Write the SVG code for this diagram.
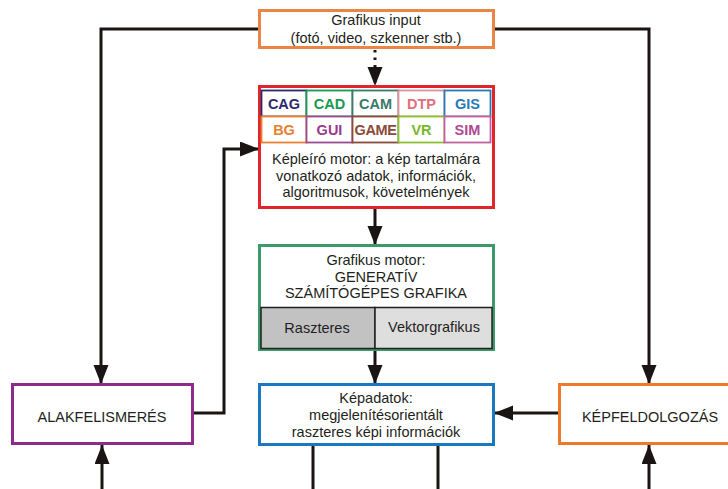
<svg xmlns="http://www.w3.org/2000/svg" width="728" height="489" viewBox="0 0 728 489">
<defs>
<marker id="ah" markerUnits="userSpaceOnUse" markerWidth="20" markerHeight="16" refX="19" refY="7.5" orient="auto">
<path d="M0,0 L19,7.5 L0,15 Z" fill="#1a1414"/>
</marker>
<style>
text{font-family:"Liberation Sans",Arial,sans-serif;font-size:14.5px;fill:#231f20;text-anchor:middle}
.b{font-weight:bold;font-size:14.5px}
.box{fill:#fff;stroke-width:3}
.cell{fill:#fff;stroke-width:1.8}
.ln{fill:none;stroke:#1a1414;stroke-width:3}
</style>
</defs>
<rect width="728" height="489" fill="#fff"/>
<g id="connectors">
<polyline class="ln" points="259,29 101,29 101,384" marker-end="url(#ah)"/>
<polyline class="ln" points="494,29 649,29 649,384" marker-end="url(#ah)"/>
<line class="ln" x1="375" y1="50" x2="375" y2="86" stroke-dasharray="2.5 5" marker-end="url(#ah)"/>
<line class="ln" x1="375" y1="208" x2="375" y2="245" marker-end="url(#ah)"/>
<line class="ln" x1="375" y1="350" x2="375" y2="384" marker-end="url(#ah)"/>
<polyline class="ln" points="193,413 224,413 224,149 259,149" marker-end="url(#ah)"/>
<line class="ln" x1="559" y1="413" x2="494" y2="413" marker-end="url(#ah)"/>
<line class="ln" x1="102" y1="489" x2="102" y2="445" marker-end="url(#ah)"/>
<line class="ln" x1="649" y1="489" x2="649" y2="445" marker-end="url(#ah)"/>
<line class="ln" x1="313" y1="445" x2="313" y2="489"/>
<line class="ln" x1="438" y1="445" x2="438" y2="489"/>
</g>
<g id="input">
<rect class="box" x="259.5" y="10.5" width="234" height="37" stroke="#ec8444"/>
<text x="376" y="25">Grafikus input</text>
<text x="376" y="43">(fotó, video, szkenner stb.)</text>
</g>
<g id="kepleiro">
<rect class="box" x="259.5" y="86.5" width="234" height="121" stroke="#e0262a"/>
<rect class="cell" x="261.5" y="90.5" width="45" height="26" stroke="#2e2a6e"/>
<text class="b" x="284" y="109" style="fill:#2e2a6e">CAG</text>
<rect class="cell" x="306.5" y="90.5" width="46" height="26" stroke="#1a9a50"/>
<text class="b" x="329.5" y="109" style="fill:#1a9a50">CAD</text>
<rect class="cell" x="352.5" y="90.5" width="46" height="26" stroke="#3a7a6a"/>
<text class="b" x="375.5" y="109" style="fill:#3a7a6a">CAM</text>
<rect class="cell" x="398.5" y="90.5" width="46" height="26" stroke="#e0909a"/>
<text class="b" x="421.5" y="109" style="fill:#e0707a">DTP</text>
<rect class="cell" x="444.5" y="90.5" width="46" height="26" stroke="#2a78b8"/>
<text class="b" x="467.5" y="109" style="fill:#2a78b8">GIS</text>
<rect class="cell" x="261.5" y="116.5" width="45" height="26" stroke="#e88030"/>
<text class="b" x="284" y="135" style="fill:#e88030">BG</text>
<rect class="cell" x="306.5" y="116.5" width="46" height="26" stroke="#9a4a8e"/>
<text class="b" x="329.5" y="135" style="fill:#9a3a8a">GUI</text>
<rect class="cell" x="352.5" y="116.5" width="46" height="26" stroke="#8a4a3a"/>
<text class="b" x="375.5" y="135" style="fill:#8a4a3a;letter-spacing:-0.4px">GAME</text>
<rect class="cell" x="398.5" y="116.5" width="46" height="26" stroke="#8ac030"/>
<text class="b" x="421.5" y="135" style="fill:#7ab828">VR</text>
<rect class="cell" x="444.5" y="116.5" width="46" height="26" stroke="#c060a0"/>
<text class="b" x="467.5" y="135" style="fill:#b04a90">SIM</text>
<text x="376" y="164">Képleíró motor: a kép tartalmára</text>
<text x="376" y="181">vonatkozó adatok, információk,</text>
<text x="376" y="197">algoritmusok, követelmények</text>
</g>
<g id="grafikus">
<rect class="box" x="259.5" y="245.5" width="234" height="104" stroke="#3a9a6a"/>
<rect x="261" y="307.5" width="114" height="41" fill="#c2c2c2" stroke="#231f20" stroke-width="1.5"/>
<rect x="375" y="307.5" width="117" height="41" fill="#dedede" stroke="#231f20" stroke-width="1.5"/>
<text x="376" y="265">Grafikus motor:</text>
<text x="376" y="282">GENERATÍV</text>
<text x="376" y="298">SZÁMÍTÓGÉPES GRAFIKA</text>
<text x="317" y="333">Raszteres</text>
<text x="434" y="332">Vektorgrafikus</text>
</g>
<g id="kepadatok">
<rect class="box" x="259.5" y="384.5" width="234" height="60" stroke="#1a78c0"/>
<text x="376" y="403">Képadatok:</text>
<text x="376" y="420">megjelenítésorientált</text>
<text x="376" y="437">raszteres képi információk</text>
</g>
<g id="alakfelismeres">
<rect class="box" x="12.5" y="384.5" width="180" height="59" stroke="#8e2a8a"/>
<text x="102" y="422">ALAKFELISMERÉS</text>
</g>
<g id="kepfeldolgozas">
<rect class="box" x="559.5" y="384.5" width="182" height="59" stroke="#ec7a2a"/>
<text x="650" y="422">KÉPFELDOLGOZÁS</text>
</g>
</svg>
